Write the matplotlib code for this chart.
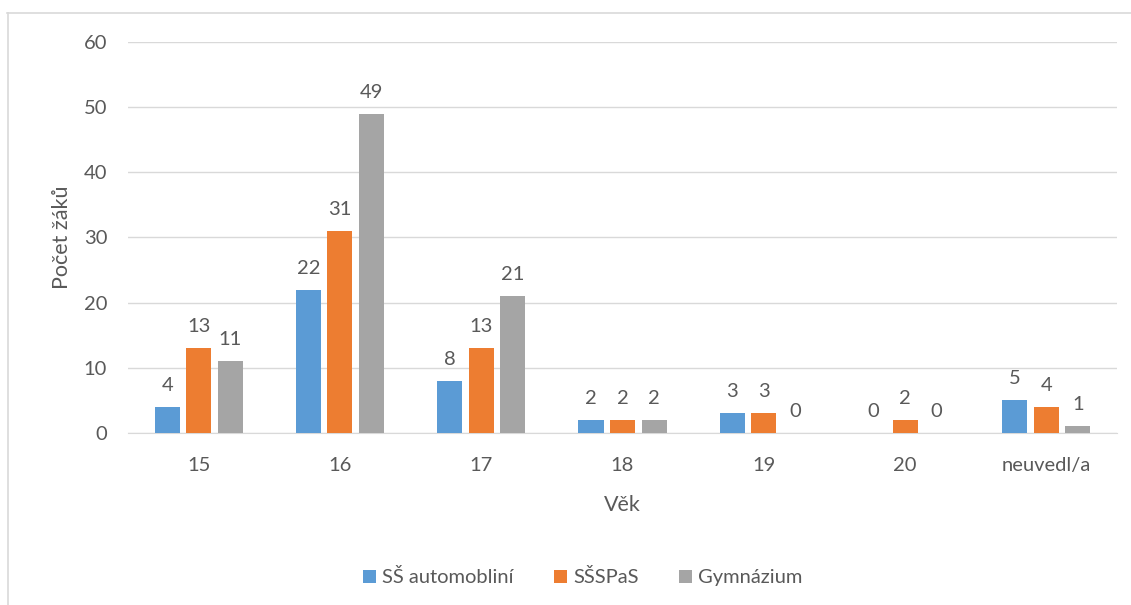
import numpy as np
import matplotlib.pyplot as plt
from matplotlib.lines import Line2D

plt.rcParams['font.family'] = ['Lato', 'DejaVu Sans']

kategorie = ['15', '16', '17', '18', '19', '20', 'neuvedl/a']
ss_auto = [4, 22, 8, 2, 3, 0, 5]
ssspas = [13, 31, 13, 2, 3, 2, 4]
gymnazium = [11, 49, 21, 2, 0, 0, 1]

nazvy = ['SŠ automobliní', 'SŠSPaS', 'Gymnázium']
barvy = ['#5b9bd5', '#ed7d31', '#a5a5a5']
text_col = '#595959'

fig = plt.figure(figsize=(11.31, 6.05), dpi=100)
ax = fig.add_axes([0.1132, 0.2843, 0.8744, 0.6463])

x = np.arange(len(kategorie))
w = 0.177
d = 0.223
for i, (vals, c, n) in enumerate(zip([ss_auto, ssspas, gymnazium], barvy, nazvy)):
    bars = ax.bar(x + (i - 1) * d, vals, w, color=c, label=n, zorder=3)
    for b, v in zip(bars, vals):
        ax.text(b.get_x() + b.get_width() / 2, v + 2.0, str(v), ha='center', va='bottom',
                fontsize=14.5, color=text_col)

ax.set_xlim(-0.5, len(kategorie) - 0.5)
ax.set_ylim(0, 60)
ax.set_yticks(range(0, 61, 10))
ax.set_xticks(x)
ax.set_xticklabels(kategorie)
ax.yaxis.grid(True, color='#d9d9d9', linewidth=1, zorder=0)
for s in ['top', 'right', 'left']:
    ax.spines[s].set_visible(False)
ax.spines['bottom'].set_color('#d9d9d9')
ax.tick_params(axis='both', length=0, labelsize=14.5, colors=text_col)
ax.tick_params(axis='y', pad=15)
ax.tick_params(axis='x', pad=17)

ax.set_ylabel('Počet žáků', fontsize=15.5, color=text_col)
ax.yaxis.set_label_coords(-0.0667, 0.5)
ax.set_xlabel('Věk', fontsize=15.5, color=text_col)
ax.xaxis.set_label_coords(0.5, -0.184)
ax.xaxis.label.set_va('center')
ax.yaxis.label.set_va('center')

ax.legend(loc='upper center', bbox_to_anchor=(0.46, -0.30), ncol=3, frameon=False,
          fontsize=14.5, labelcolor=text_col, handlelength=0.65, handleheight=0.65,
          handletextpad=0.3, columnspacing=2.0)

# ramecek grafu (jen horni a leva hrana je videt)
fig.add_artist(Line2D([7 / 1131, 1], [1 - 12.5 / 605, 1 - 12.5 / 605], color='#d9d9d9', lw=1.2))
fig.add_artist(Line2D([7.5 / 1131, 7.5 / 1131], [0, 1 - 12.5 / 605], color='#d9d9d9', lw=1.2))

fig.savefig('out.png', dpi=100)
